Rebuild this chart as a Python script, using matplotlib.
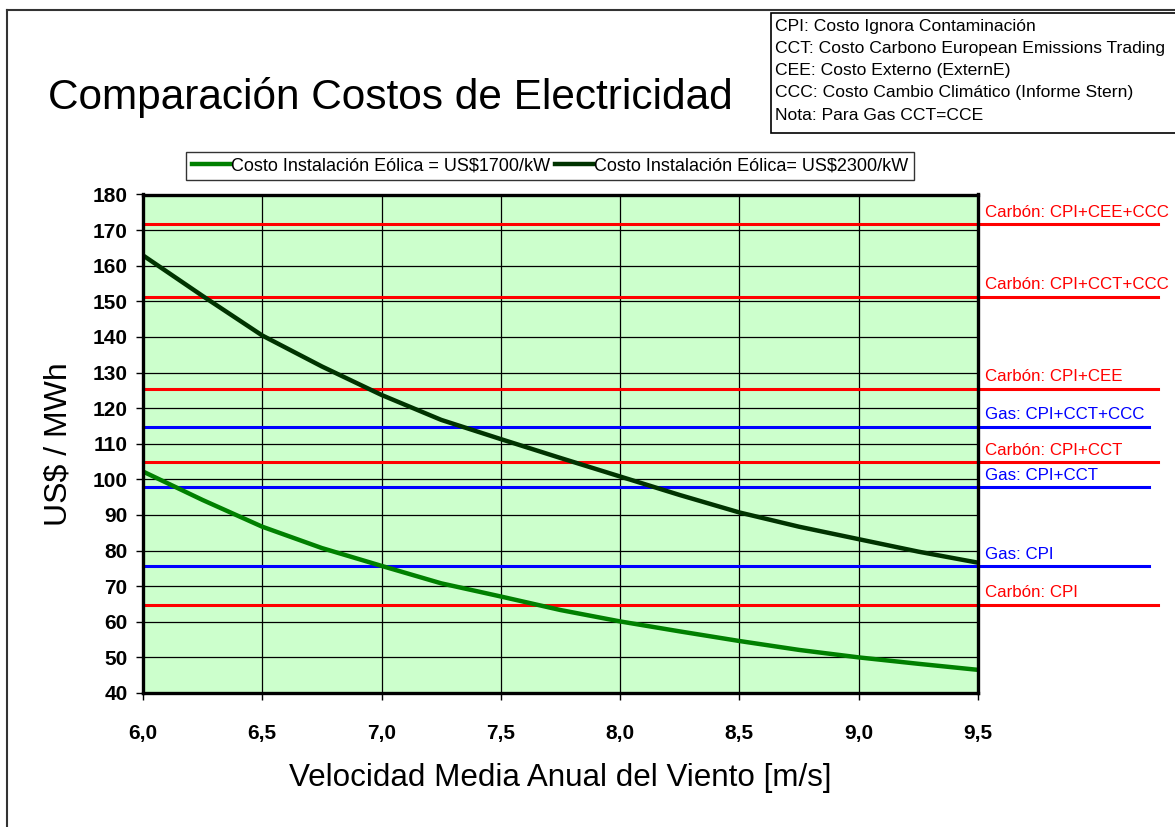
import matplotlib
matplotlib.use("Agg")
import matplotlib.pyplot as plt
from matplotlib.patches import Rectangle
from matplotlib.lines import Line2D

plt.rcParams["font.family"] = ["Liberation Sans", "DejaVu Sans"]

# wind speed (m/s) and cost curves (US$/MWh)
wind = [6.0, 6.25, 6.5, 6.75, 7.0, 7.25, 7.5, 7.75, 8.0, 8.25, 8.5, 8.75, 9.0, 9.25, 9.5]
cost_1700 = [102.2, 94.2, 86.7, 80.7, 75.7, 70.8, 67.1, 63.3, 60.1, 57.3, 54.6, 52.1, 50.0, 48.2, 46.5]
cost_2300 = [162.9, 151.5, 140.4, 131.7, 123.7, 116.7, 111.3, 106.0, 100.8, 95.6, 90.7, 86.7, 83.2, 79.7, 76.6]
series_labels = ["Costo Instalación Eólica = US$1700/kW", "Costo Instalación Eólica= US$2300/kW"]

# reference costs of conventional generation
ref_labels = ["Carbón: CPI+CEE+CCC", "Carbón: CPI+CCT+CCC", "Carbón: CPI+CEE",
              "Gas: CPI+CCT+CCC", "Carbón: CPI+CCT", "Gas: CPI+CCT", "Gas: CPI", "Carbón: CPI"]
ref_values = [171.6, 151.3, 125.4, 114.8, 104.8, 97.8, 75.6, 64.7]

notes = ["CPI: Costo Ignora Contaminación",
         "CCT: Costo Carbono European Emissions Trading",
         "CEE: Costo Externo (ExternE)",
         "CCC: Costo Cambio Climático (Informe Stern)",
         "Nota: Para Gas CCT=CCE"]

xticks = [6.0, 6.5, 7.0, 7.5, 8.0, 8.5, 9.0, 9.5]
yticks = list(range(40, 181, 10))

W, H = 1175, 827
fig = plt.figure(figsize=(W / 100, H / 100), dpi=100)
ax = fig.add_axes([143 / W, 1 - 693 / H, (978 - 143) / W, (693 - 194.5) / H])
ax.set_facecolor("#CCFFCC")

# grid
for x in xticks:
    ax.axvline(x, color="black", lw=0.9, zorder=1)
for y in yticks:
    ax.axhline(y, color="black", lw=0.9, zorder=1)

# reference lines, extending out of the plot
tr = ax.get_yaxis_transform()
for lab, val in zip(ref_labels, ref_values):
    col = "#0000FF" if lab.startswith("Gas") else "#FF0000"
    end = 1.205 if lab.startswith("Gas") else 1.215
    ax.plot([0, end], [val, val], color=col, lw=2.2, transform=tr, clip_on=False, zorder=3)
    ax.text(1.008, val + 1.3, lab, color=col, fontsize=12.2, transform=tr,
            ha="left", va="bottom", clip_on=False)

ax.plot(wind, cost_1700, color="#008000", lw=3.2, zorder=4, solid_capstyle="butt")
ax.plot(wind, cost_2300, color="#003300", lw=3.2, zorder=4, solid_capstyle="butt")

ax.set_xlim(6.0, 9.5)
ax.set_ylim(40, 180)
ax.set_xticks(xticks)
ax.set_xticklabels([f"{x:.1f}".replace(".", ",") for x in xticks],
                   fontsize=15, fontweight="bold")
ax.set_yticks(yticks)
ax.set_yticklabels([str(y) for y in yticks], fontsize=15, fontweight="bold")
ax.tick_params(direction="out", length=5, width=1)
ax.tick_params(axis="x", pad=17)
ax.tick_params(axis="y", pad=6)
for s in ax.spines.values():
    s.set_linewidth(2.4)
    s.set_color("black")
    s.set_zorder(5)

ax.set_xlabel("Velocidad Media Anual del Viento [m/s]", fontsize=22.6, labelpad=15)
ax.set_ylabel("US$ / MWh", fontsize=23, labelpad=14)

# legend
handles = [Line2D([], [], color="#008000", lw=3.2), Line2D([], [], color="#003300", lw=3.2)]
leg = fig.legend(handles, series_labels, loc="center", ncol=2, fontsize=13,
                 bbox_to_anchor=(550 / W, 1 - 166 / H), frameon=True, fancybox=False,
                 handlelength=2.1, handletextpad=0.05, columnspacing=0.3,
                 borderpad=0.3, borderaxespad=0)
leg.get_frame().set_edgecolor("black")
leg.get_frame().set_linewidth(1.0)

# title
fig.text(48 / W, 1 - 97 / H, "Comparación Costos de Electricidad", fontsize=30.5,
         ha="left", va="center")

# outer frame
fig.add_artist(Line2D([7 / W, 7 / W], [0, 1 - 10 / H], color="#333333", lw=1.5))
fig.add_artist(Line2D([7 / W, 1], [1 - 10 / H, 1 - 10 / H], color="#333333", lw=1.5))

# notes box
fig.add_artist(Rectangle((771 / W, 1 - 133 / H), 0.5, (133 - 13) / H,
                         transform=fig.transFigure, facecolor="white",
                         edgecolor="black", lw=1.2))
for i, t in enumerate(notes):
    fig.text(775 / W, 1 - (26.7 + 22.1 * i) / H, t, fontsize=12.6, ha="left", va="center")

fig.savefig("out.png", dpi=100)
